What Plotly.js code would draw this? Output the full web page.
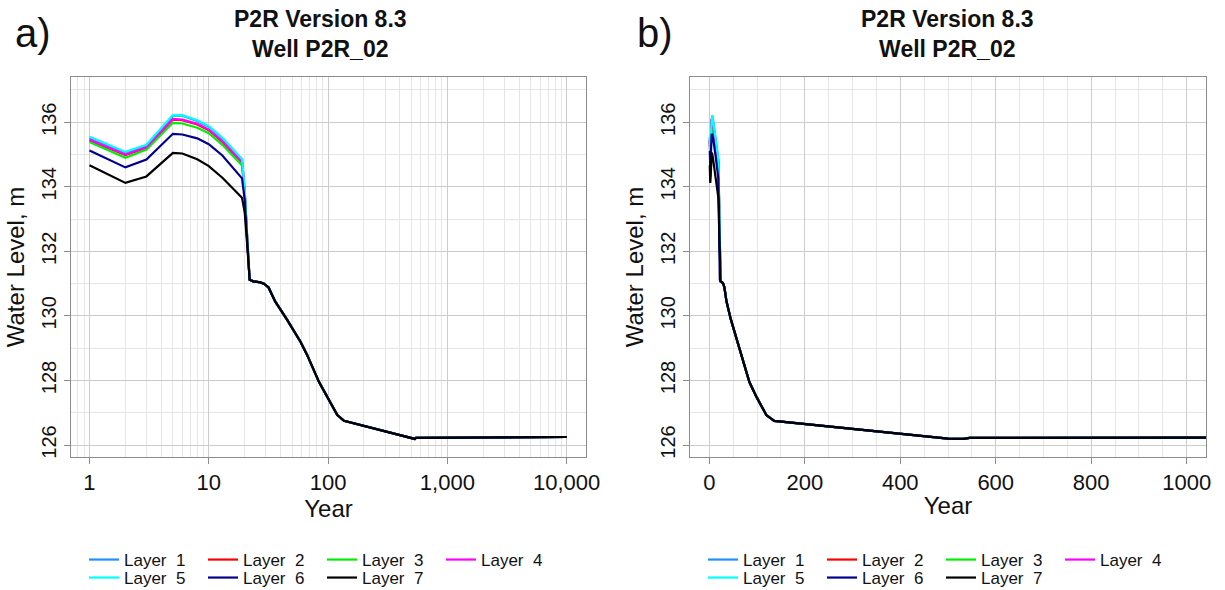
<!DOCTYPE html>
<html>
<head>
<meta charset="utf-8">
<script src="https://cdn.plot.ly/plotly-3.0.1.min.js"></script>
<style>html,body{margin:0;padding:0;background:#fff;}#chart{width:1225px;height:590px;}</style>
</head>
<body>
<div id="chart"></div>
<script>
// Years of simulation output
const years = [1,2,3,4,5,6,8,10,13,19,20,21,22,23.6,27,29,31.7,36,45,58.7,66.6,84,98.6,119.5,136,500,533,545,1000,10000];

// Water level (m) per layer
const layer1 = [135.53,135.06,135.28,135.78,136.20,136.20,136.04,135.86,135.50,134.83,133.88,132.40,131.12,131.07,131.04,131.00,130.88,130.45,129.90,129.20,128.80,127.95,127.50,126.93,126.75,126.20,126.19,126.22,126.23,126.25];
const layer2 = [135.44,134.98,135.21,135.70,136.08,136.06,135.93,135.75,135.39,134.75,133.83,132.38,131.12,131.07,131.04,131.00,130.88,130.45,129.90,129.20,128.80,127.95,127.50,126.93,126.75,126.20,126.19,126.22,126.23,126.25];
const layer3 = [135.39,134.90,135.15,135.63,135.98,135.96,135.83,135.66,135.30,134.66,133.80,132.35,131.12,131.07,131.04,131.00,130.88,130.45,129.90,129.20,128.80,127.95,127.50,126.93,126.75,126.20,126.19,126.22,126.23,126.25];
const layer4 = [135.46,135.00,135.23,135.72,136.10,136.08,135.95,135.77,135.41,134.77,133.85,132.40,131.12,131.07,131.04,131.00,130.88,130.45,129.90,129.20,128.80,127.95,127.50,126.93,126.75,126.20,126.19,126.22,126.23,126.25];
const layer5 = [135.55,135.08,135.30,135.80,136.22,136.22,136.06,135.88,135.52,134.85,133.90,132.40,131.12,131.07,131.04,131.00,130.88,130.45,129.90,129.20,128.80,127.95,127.50,126.93,126.75,126.20,126.19,126.22,126.23,126.25];
const layer6 = [135.12,134.60,134.84,135.28,135.64,135.62,135.50,135.32,134.97,134.26,133.60,132.30,131.12,131.07,131.04,131.00,130.88,130.45,129.90,129.20,128.80,127.95,127.50,126.93,126.75,126.20,126.19,126.22,126.23,126.25];
const layer7 = [134.67,134.12,134.32,134.74,135.05,135.03,134.85,134.64,134.28,133.66,133.20,132.20,131.12,131.07,131.04,131.00,130.88,130.45,129.90,129.20,128.80,127.95,127.50,126.93,126.75,126.20,126.19,126.22,126.23,126.25];

const layerNames = ["Layer  1","Layer  2","Layer  3","Layer  4","Layer  5","Layer  6","Layer  7"];
const layerColors = ["#1E90FF","#FF0000","#00EE00","#FF00FF","#00FFFF","#00008B","#000000"];
const layerValues = [layer1,layer2,layer3,layer4,layer5,layer6,layer7];

// Axis ticks
const logTickVals = [1,10,100,1000,10000];
const logTickText = ["1","10","100","1,000","10,000"];
const linTickVals = [0,200,400,600,800,1000];
const linTickText = ["0","200","400","600","800","1000"];
const yTickVals = [126,128,130,132,134,136];
const yTickText = ["126","128","130","132","134","136"];

const titleText = "<b>P2R Version 8.3</b><br><b>Well P2R_02</b>";
const FONT = "Liberation Sans, Arial, sans-serif";

const traces = [];
layerValues.forEach((vals, i) => {
  traces.push({
    x: years, y: vals, type: "scatter", mode: "lines",
    name: layerNames[i], line: {color: layerColors[i], width: 2.2},
    xaxis: "x", yaxis: "y", legend: i < 4 ? "legend" : "legend2"
  });
});
layerValues.forEach((vals, i) => {
  traces.push({
    x: years, y: vals, type: "scatter", mode: "lines",
    name: layerNames[i], line: {color: layerColors[i], width: 2.2},
    xaxis: "x2", yaxis: "y2", legend: i < 4 ? "legend3" : "legend4"
  });
});

const gridMajor = "#cccccc";
const gridMinor = "#e6e6e6";
const axisCommon = {
  showline: true, linecolor: "#8c8c8c", linewidth: 1, mirror: true,
  ticks: "outside", ticklen: 6, tickcolor: "#8c8c8c", tickwidth: 1,
  zeroline: false, showgrid: true, gridcolor: gridMajor, gridwidth: 1,
  tickfont: {family: FONT, size: 22, color: "#111"}
};
const yRange = [125.63, 137.40];

function yAxis(anchor) {
  return Object.assign({}, axisCommon, {
    anchor: anchor, range: yRange, tickmode: "array", tickvals: yTickVals, ticktext: yTickText,
    tickangle: -90, tickfont: {family: FONT, size: 20, color: "#111"},
    minor: {dtick: 1, tick0: 126, showgrid: true, gridcolor: gridMinor, ticks: ""},
    title: {text: "Water Level, m", font: {family: FONT, size: 24, color: "#111"}, standoff: 6}
  });
}

const legendCommon = {
  orientation: "h", xanchor: "left", yanchor: "middle", xref: "container", yref: "container",
  entrywidth: 74, entrywidthmode: "pixels", bgcolor: "rgba(0,0,0,0)",
  font: {family: FONT, size: 17, color: "#111"}, itemwidth: 30, tracegroupgap: 0
};
const W = 1135, H = 380, L = 71, T = 77;
function px(x) { return (x - L) / W; }
function py(y) { return (T + H - y) / H; }
function cx(x) { return x / 1225; }
function cy(y) { return 1 - y / 590; }

const layout = {
  width: 1225, height: 590,
  margin: {l: L, r: 19, t: T, b: 590 - T - H},
  paper_bgcolor: "#fff", plot_bgcolor: "#fff",
  font: {family: FONT, color: "#111"},
  xaxis: Object.assign({}, axisCommon, {
    type: "log", domain: [0, px(586)], range: [-0.155, 4.162], anchor: "y",
    tickmode: "array", tickvals: logTickVals, ticktext: logTickText,
    minor: {dtick: "D1", showgrid: true, gridcolor: gridMinor, ticks: ""},
    title: {text: "Year", font: {family: FONT, size: 24, color: "#111"}, standoff: 0}
  }),
  yaxis: yAxis("x"),
  xaxis2: Object.assign({}, axisCommon, {
    domain: [px(690), 1], range: [-40.4, 1040.4], anchor: "y2",
    tickmode: "array", tickvals: linTickVals, ticktext: linTickText,
    minor: {dtick: 50, tick0: 0, showgrid: true, gridcolor: gridMinor, ticks: ""},
    title: {text: "Year", font: {family: FONT, size: 24, color: "#111"}, standoff: 2}
  }),
  yaxis2: yAxis("x2"),
  legend: Object.assign({}, legendCommon, {x: cx(84), y: cy(560)}),
  legend2: Object.assign({}, legendCommon, {x: cx(84), y: cy(578)}),
  legend3: Object.assign({}, legendCommon, {x: cx(703), y: cy(560)}),
  legend4: Object.assign({}, legendCommon, {x: cx(703), y: cy(578)}),
  annotations: [
    {text: titleText, xref: "paper", yref: "paper", x: px(320), y: py(34), xanchor: "center", yanchor: "middle",
     showarrow: false, font: {family: FONT, size: 23, color: "#111"}},
    {text: titleText, xref: "paper", yref: "paper", x: px(947), y: py(34), xanchor: "center", yanchor: "middle",
     showarrow: false, font: {family: FONT, size: 23, color: "#111"}},
    {text: "a)", xref: "paper", yref: "paper", x: px(13), y: py(33), xanchor: "left", yanchor: "middle",
     showarrow: false, font: {family: FONT, size: 40, color: "#111"}},
    {text: "b)", xref: "paper", yref: "paper", x: px(635), y: py(33), xanchor: "left", yanchor: "middle",
     showarrow: false, font: {family: FONT, size: 40, color: "#111"}}
  ]
};

Plotly.newPlot("chart", traces, layout, {displayModeBar: false, staticPlot: true});
</script>
</body>
</html>
